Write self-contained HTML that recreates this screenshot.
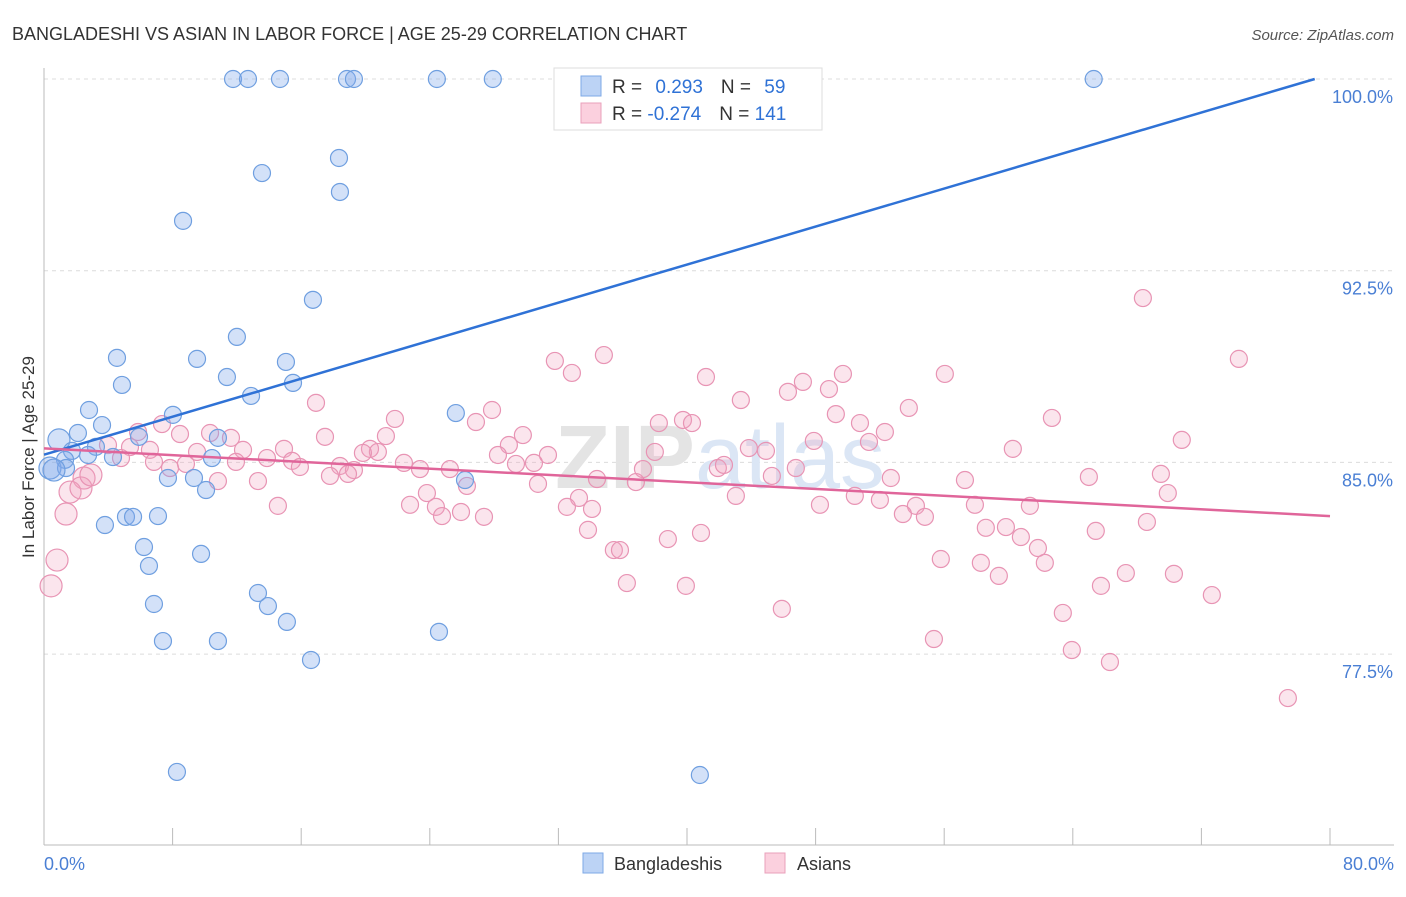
<!DOCTYPE html>
<html><head><meta charset="utf-8"><style>
body{margin:0;background:#fff;font-family:"Liberation Sans",sans-serif}
svg text{font-family:"Liberation Sans",sans-serif}
</style></head><body>
<svg id="chart" width="1406" height="892" xmlns="http://www.w3.org/2000/svg">
<text x="12" y="40" font-size="18" fill="#333">BANGLADESHI VS ASIAN IN LABOR FORCE | AGE 25-29 CORRELATION CHART</text>
<text x="1394" y="40" font-size="15" fill="#555" font-style="italic" text-anchor="end">Source: ZipAtlas.com</text>
<g id="grid"></g>
<text x="720" y="488" font-size="90" fill="#e4e4e4" text-anchor="middle" font-family="Liberation Serif" font-weight="bold">ZIP<tspan fill="#dbe6f5" font-family="Liberation Sans" font-weight="normal">atlas</tspan></text>
<g id="pts"></g>
<g id="lines"></g>
<text transform="translate(34,457) rotate(-90)" font-size="17" fill="#333" text-anchor="middle">In Labor Force | Age 25-29</text>
<text x="44" y="870" font-size="18" fill="#4a7fd4">0.0%</text>
<text x="1394" y="870" font-size="18" fill="#4a7fd4" text-anchor="end">80.0%</text>
<g>
<rect x="554" y="68" width="268" height="62" fill="#fff" stroke="#ddd"/>
<rect x="581" y="76" width="20" height="20" fill="#bcd3f5" stroke="#7ea8e6"/>
<rect x="581" y="103" width="20" height="20" fill="#fbd0de" stroke="#eaa0bb"/>
<text x="612" y="93" font-size="19" fill="#333">R = <tspan fill="#2f72d6" dx="8">0.293</tspan><tspan dx="18">N = </tspan><tspan fill="#2f72d6" dx="8">59</tspan></text>
<text x="612" y="120" font-size="19" fill="#333">R = <tspan fill="#2f72d6">-0.274</tspan><tspan dx="18">N = </tspan><tspan fill="#2f72d6">141</tspan></text>
</g>
<g>
<rect x="583" y="853" width="20" height="20" fill="#bcd3f5" stroke="#7ea8e6"/>
<text x="614" y="870" font-size="18" fill="#333">Bangladeshis</text>
<rect x="765" y="853" width="20" height="20" fill="#fbd0de" stroke="#eaa0bb"/>
<text x="797" y="870" font-size="18" fill="#333">Asians</text>
</g>
</svg>
<script>
const yTicks=[100,92.5,85,77.5];
const yTickLabels=["100.0%","92.5%","85.0%","77.5%"];
const xTicks=[0,8,16,24,32,40,48,56,64,72,80];
const blueX=[11.76,12.69,14.68,18.85,19.28,24.44,27.92,65.3,18.35,13.56,18.41,8.65,16.73,12.0,4.54,9.52,15.05,11.38,15.49,4.85,12.88,2.8,8.02,25.62,3.61,2.11,0.93,5.91,10.82,3.23,1.74,4.29,2.74,1.31,10.45,0.37,1.37,9.33,7.71,26.19,10.08,5.1,5.54,7.09,3.79,6.22,9.77,6.53,13.31,6.84,13.93,15.11,7.4,10.82,24.57,16.61,8.27,40.8,0.62];
const blueY=[100,100,100,100,100,100,100,100,96.91,96.32,95.58,94.45,91.36,89.91,89.09,89.05,88.93,88.34,88.11,88.03,87.6,87.05,86.86,86.93,86.46,86.15,85.88,86.0,85.96,85.61,85.45,85.21,85.29,85.1,85.17,84.78,84.78,84.39,84.39,84.31,83.92,82.87,82.87,82.9,82.55,81.69,81.42,80.95,79.89,79.46,79.38,78.76,78.01,78.01,78.37,77.27,72.89,72.77,84.7];
const pinkX=[68.36,74.33,34.83,31.78,32.84,41.18,56.04,49.70,47.21,48.83,46.28,43.35,16.92,27.87,53.80,49.26,62.70,21.83,38.25,39.75,40.31,50.76,26.87,7.34,52.31,5.85,3.98,8.46,11.63,17.48,21.27,29.79,70.78,28.92,47.89,51.32,43.85,44.91,60.27,20.28,20.77,19.84,28.24,31.35,38.0,5.35,6.59,4.79,9.52,10.33,12.38,13.87,14.93,15.43,15.92,8.83,6.84,11.94,29.36,30.48,22.39,23.39,18.41,19.28,17.79,18.91,25.25,37.26,41.92,42.30,46.77,52.68,65.0,69.48,57.29,2.49,1.62,2.30,2.92,7.84,10.82,13.31,26.31,30.73,36.82,45.28,43.04,69.91,33.28,50.44,52.0,22.77,23.82,24.38,24.76,25.94,27.37,32.53,34.09,14.55,48.27,54.24,53.43,54.80,57.91,61.33,1.37,68.61,65.43,58.59,59.84,33.84,40.87,60.77,38.81,35.45,35.83,61.83,55.79,58.28,62.26,0.81,0.44,59.40,67.30,70.29,36.26,39.93,65.75,72.65,45.90,63.38,55.36,63.94,66.31,77.38,34.40];
const pinkY=[91.43,89.05,89.20,88.97,88.50,88.34,88.46,88.46,88.15,87.87,87.76,87.44,87.33,87.05,87.13,86.89,86.74,86.70,86.54,86.66,86.54,86.54,86.58,86.50,86.19,86.19,85.68,86.11,85.96,86.00,86.03,86.07,85.88,85.68,85.84,85.80,85.56,85.45,85.53,85.53,85.41,85.37,85.29,85.29,85.41,85.60,85.49,85.17,85.41,86.15,85.49,85.17,85.53,85.06,84.82,84.94,85.02,85.02,84.94,84.98,84.98,84.74,84.86,84.70,84.47,84.55,84.74,84.74,84.78,84.90,84.78,84.39,84.43,84.55,84.31,84.39,83.84,84.0,84.51,84.78,84.27,84.27,84.08,84.16,84.23,84.47,83.69,83.80,83.61,83.69,83.53,83.34,83.80,83.26,82.90,83.06,82.87,83.26,83.18,83.30,83.34,83.30,82.98,82.87,83.34,83.30,82.98,82.67,82.32,82.44,82.47,82.36,82.24,82.08,82.0,81.57,81.57,81.65,81.22,81.07,81.07,81.18,80.17,80.56,80.67,80.64,80.28,80.17,80.17,79.81,79.27,79.11,78.09,77.66,77.19,75.78,84.35];
const blueTrend=[[0,85.3],[79.05,100]];
const pinkTrend=[[0,85.55],[80,82.9]];
const NS="http://www.w3.org/2000/svg";
const sx=v=>44+v/80*1286;
const sy=v=>79+(100-v)/7.5*191.7;
function mk(tag,attrs,parent){const e=document.createElementNS(NS,tag);for(const k in attrs)e.setAttribute(k,attrs[k]);parent.appendChild(e);return e;}
const grid=document.getElementById('grid');
yTicks.forEach((t,i)=>{
 const l=mk('line',{x1:44,x2:1394,y1:sy(t),y2:sy(t),stroke:'#dcdcdc','stroke-dasharray':'4,4'},grid);
 
 
 const tx=mk('text',{x:1393,y:sy(t)+24,'font-size':18,fill:'#4a7fd4','text-anchor':'end'},grid);
 tx.textContent=yTickLabels[i];
 
 
});
const ax=mk('line',{x1:44,x2:44,y1:68,y2:845,stroke:'#bbb'},grid);


const bx=mk('line',{x1:44,x2:1394,y1:845,y2:845,stroke:'#bbb'},grid);


xTicks.forEach(t=>{
 const l=mk('line',{x1:sx(t),x2:sx(t),y1:828,y2:845,stroke:'#bbb'},grid);
 
 
});
const pts=document.getElementById('pts');
pinkX.forEach((x,i)=>{
 const c=mk('circle',{cx:sx(x),cy:sy(pinkY[i]),r:x<3?11:8.5,fill:'rgba(242,160,190,0.28)',stroke:'#e894b4','stroke-width':1.2},pts);
 
 
});
blueX.forEach((x,i)=>{
 const c=mk('circle',{cx:sx(x),cy:sy(blueY[i]),r:x<1?11:8.5,fill:'rgba(130,170,235,0.35)',stroke:'#6f9fe0','stroke-width':1.2},pts);
 
 
});
const lines=document.getElementById('lines');
const bl=mk('line',{x1:sx(blueTrend[0][0]),y1:sy(blueTrend[0][1]),x2:sx(blueTrend[1][0]),y2:sy(blueTrend[1][1]),stroke:'#2f72d6','stroke-width':2.5},lines);


const pl=mk('line',{x1:sx(pinkTrend[0][0]),y1:sy(pinkTrend[0][1]),x2:sx(pinkTrend[1][0]),y2:sy(pinkTrend[1][1]),stroke:'#e0659a','stroke-width':2.5},lines);


</script>
</body></html>
